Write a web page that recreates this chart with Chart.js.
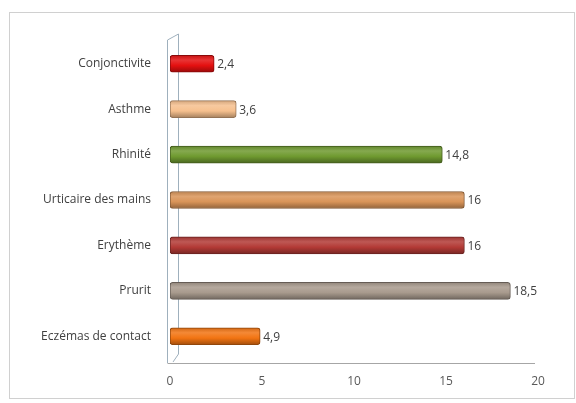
<!DOCTYPE html>
<html>
<head>
<meta charset="utf-8">
<script src="https://cdn.jsdelivr.net/npm/chart.js@4/dist/chart.umd.min.js"></script>
<style>
  html, body { margin: 0; padding: 0; background: #fff; }
  #wrap { position: relative; width: 576px; height: 403px; }
  #frame { position: absolute; left: 9px; top: 12px; width: 566px; height: 387px; border: 1px solid #d0d0d0; box-sizing: border-box; }
  canvas { position: absolute; left: 0; top: 0; }
</style>
</head>
<body>
<div id="wrap">
  <div id="frame"></div>
  <canvas id="chart" width="576" height="403"></canvas>
</div>
<script>
// Data
const categories = ['Conjonctivite', 'Asthme', 'Rhinité', 'Urticaire des mains', 'Erythème', 'Prurit', 'Eczémas de contact'];
const values = [2.4, 3.6, 14.8, 16, 16, 18.5, 4.9];
const barColors = ['#e41010', '#f6c08e', '#6f9a30', '#d99458', '#b33a36', '#a89a8d', '#f27412'];
const xTicks = [0, 5, 10, 15, 20];

// darken / lighten a hex colour
function shade(hex, f) {
    let r = parseInt(hex.slice(1, 3), 16), g = parseInt(hex.slice(3, 5), 16), b = parseInt(hex.slice(5, 7), 16);
    if (f < 0) { r = r * (1 + f); g = g * (1 + f); b = b * (1 + f); }
    else { r = r + (255 - r) * f; g = g + (255 - g) * f; b = b + (255 - b) * f; }
    return 'rgb(' + Math.round(r) + ',' + Math.round(g) + ',' + Math.round(b) + ')';
}

// cylinder look: vertical gradient per bar
function barFill(context) {
    const chart = context.chart;
    const base = barColors[context.dataIndex];
    if (!chart.chartArea) return base;
    const y = chart.scales.y.getPixelForValue(context.dataIndex);
    const g = chart.ctx.createLinearGradient(0, y - 9, 0, y + 9);
    g.addColorStop(0, shade(base, -0.15));
    g.addColorStop(0.3, shade(base, 0.15));
    g.addColorStop(0.6, base);
    g.addColorStop(1, shade(base, -0.35));
    return g;
}

// 3D wall at the left and floor line
const wallPlugin = {
    id: 'wall',
    beforeDatasetsDraw(chart) {
        const ctx = chart.ctx;
        const a = chart.chartArea;
        ctx.save();
        ctx.strokeStyle = '#9fb0bd';
        ctx.lineWidth = 1;
        ctx.beginPath();
        ctx.moveTo(a.left - 2.5, a.bottom + 4);
        ctx.lineTo(a.left - 2.5, a.top - 1);
        ctx.lineTo(a.left + 8.5, a.top - 7);
        ctx.lineTo(a.left + 8.5, a.bottom - 5);
        ctx.lineTo(a.left + 3, a.bottom + 3);
        ctx.stroke();
        ctx.strokeStyle = '#a6a6a6';
        ctx.beginPath();
        ctx.moveTo(a.left - 2.5, a.bottom + 4.5);
        ctx.lineTo(a.right - 3, a.bottom + 4.5);
        ctx.stroke();
        ctx.restore();
    }
};

// value labels after the bar ends
const labelPlugin = {
    id: 'valueLabels',
    afterDatasetsDraw(chart) {
        const ctx = chart.ctx;
        const meta = chart.getDatasetMeta(0);
        ctx.save();
        ctx.font = '12px "Open Sans"';
        ctx.fillStyle = '#404040';
        ctx.textAlign = 'left';
        ctx.textBaseline = 'middle';
        meta.data.forEach(function(bar, i) {
            ctx.fillText(String(values[i]).replace('.', ','), bar.x + 3, bar.y + 1);
        });
        ctx.restore();
    }
};

new Chart(document.getElementById('chart'), {
    type: 'bar',
    data: {
        labels: categories,
        datasets: [{
            data: values,
            backgroundColor: barFill,
            borderColor: barColors.map(c => shade(c, -0.4)),
            borderWidth: 1,
            borderRadius: 3,
            borderSkipped: false,
            barThickness: 17
        }]
    },
    options: {
        indexAxis: 'y',
        responsive: false,
        animation: false,
        layout: { padding: { top: 41, right: 38, left: 0, bottom: 0 } },
        plugins: { legend: { display: false }, tooltip: { enabled: false } },
        scales: {
            x: {
                min: 0,
                max: 20,
                afterBuildTicks: function(scale) { scale.ticks = xTicks.map(v => ({ value: v })); },
                afterFit: function(scale) { scale.height = 44; },
                grid: { display: false, drawTicks: false },
                border: { display: false },
                ticks: { color: '#595959', font: { family: 'Open Sans', size: 12 }, padding: 15 }
            },
            y: {
                afterFit: function(scale) { scale.width = 170; },
                grid: { display: false, drawTicks: false },
                border: { display: false },
                ticks: { color: '#404040', font: { family: 'Open Sans', size: 12 }, padding: 19 }
            }
        }
    },
    plugins: [wallPlugin, labelPlugin]
});
</script>
</body>
</html>
